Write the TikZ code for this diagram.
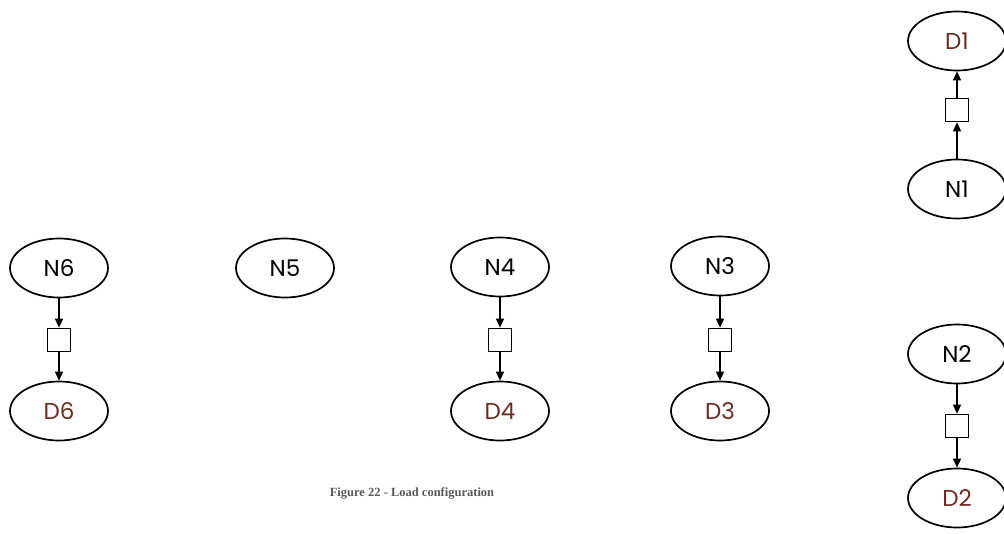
\documentclass[tikz,border=0pt]{standalone}
\usepackage{fontspec}
\setmainfont{Poppins}
\newfontfamily\captionfont{Liberation Serif}
\usetikzlibrary{shapes.geometric,arrows.meta}
\definecolor{demandred}{HTML}{6E2B24}
\definecolor{captiongray}{HTML}{595959}
\tikzset{
  netnode/.style={ellipse,draw,line width=1.7pt,minimum width=98pt,minimum height=59pt,
    inner sep=0pt,font=\fontsize{23}{23}\selectfont},
  demnode/.style={netnode,text=demandred},
  loadbox/.style={rectangle,draw,line width=1.7pt,minimum size=23pt,inner sep=0pt},
  flow/.style={line width=1.4pt,-{Triangle[length=9pt,width=8pt]}}
}
\begin{document}
\begin{tikzpicture}[x=1pt,y=-1pt]
\useasboundingbox (0,0) rectangle (1004,533);

% bottom row of network nodes and their loads
\node[netnode] (n6) at (59,268) {N6};
\node[loadbox] (b6) at (59,340) {};
\node[demnode] (d6) at (59,411) {D6};

\node[netnode] (n5) at (285,268) {N5};

\node[netnode] (n4) at (500,267) {N4};
\node[loadbox] (b4) at (500,340) {};
\node[demnode] (d4) at (500,411) {D4};

\node[netnode] (n3) at (720,266) {N3};
\node[loadbox] (b3) at (720,340) {};
\node[demnode] (d3) at (720,411) {D3};

% right column
\node[demnode] (d1) at (957,41) {D1};
\node[loadbox] (b1) at (957,110) {};
\node[netnode] (n1) at (957,189) {N1};

\node[netnode] (n2) at (957,354) {N2};
\node[loadbox] (b2) at (957,426) {};
\node[demnode] (d2) at (957,498) {D2};

% connectors
\draw[flow] (n6) -- (b6);
\draw[flow] (b6) -- (d6);
\draw[flow] (n4) -- (b4);
\draw[flow] (b4) -- (d4);
\draw[flow] (n3) -- (b3);
\draw[flow] (b3) -- (d3);
\draw[flow] (n1) -- (b1);
\draw[flow] (b1) -- (d1);
\draw[flow] (n2) -- (b2);
\draw[flow] (b2) -- (d2);

% caption
\node[font=\captionfont\bfseries\fontsize{12.5}{12.5}\selectfont,text=captiongray] (cap) at (412,493)
  {Figure 22 - Load configuration};
\end{tikzpicture}
\end{document}
